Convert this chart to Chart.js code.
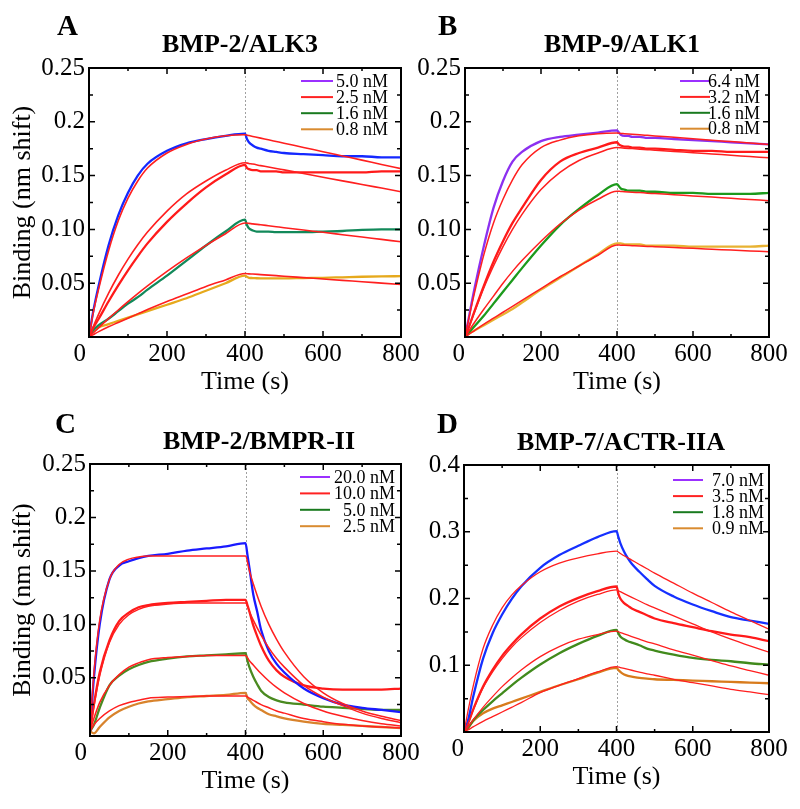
<!DOCTYPE html>
<html>
<head>
<meta charset="utf-8">
<title>Binding kinetics</title>
<script src="https://cdn.jsdelivr.net/npm/chart.js@4.4.1/dist/chart.umd.min.js"></script>
<style>
  html, body { margin: 0; padding: 0; background: #fff; }
  #wrap { position: relative; width: 800px; height: 809px; }
  #wrap canvas { position: absolute; left: 0; top: 0; }
</style>
</head>
<body>
<div id="wrap">
  <canvas id="panelA" width="800" height="809"></canvas>
  <canvas id="panelB" width="800" height="809"></canvas>
  <canvas id="panelC" width="800" height="809"></canvas>
  <canvas id="panelD" width="800" height="809"></canvas>
</div>
<script>
// Sampling times (s) for the measured curves and for the fitted curves
const dataTimes = [0, 10, 25, 50, 75, 100, 125, 150, 200, 250, 300, 350, 400,
    405, 410, 420, 430, 440, 460, 480, 500, 550, 600, 650, 700, 750, 800];
const fitTimes = [0, 10, 25, 50, 75, 100, 125, 150, 200, 250, 300, 350, 400,
    410, 420, 440, 460, 480, 500, 550, 600, 650, 700, 750, 800];
const switchTime = 400;

// Axis ticks
const xTickValues = [0, 200, 400, 600, 800];
const xTickLabelsWide = ['0   ', '200', '400', '600', '800'];
const xTickLabelsNarrow = ['0  ', '200', '400', '600', '800'];
const xMinorTicks = [100, 300, 500, 700];
const yTickValues = [0.05, 0.1, 0.15, 0.2, 0.25];
const yTickLabels = ['0.05', '0.10', '0.15', '0.2', '0.25'];
const yMinorTicks = [0.025, 0.075, 0.125, 0.175, 0.225];
const yTickValuesD = [0.1, 0.2, 0.3, 0.4];
const yTickLabelsD = ['0.1', '0.2', '0.3', '0.4'];
const yMinorTicksD = [0.05, 0.15, 0.25, 0.35];

// Legend labels
const legendA = ['5.0 nM', '2.5 nM', '1.6 nM', '0.8 nM'];
const legendB = ['6.4 nM', '3.2 nM', '1.6 nM', '0.8 nM'];
const legendC = ['20.0 nM', '10.0 nM', '5.0 nM', '2.5 nM'];
const legendD = ['7.0 nM', '3.5 nM', '1.8 nM', '0.9 nM'];
const legendColors = ['#9b30ff', '#ff2222', '#197a1f', '#d98b30'];

// A: BMP-2/ALK3 (nm shift)
const aData50 = [0, 0.022, 0.048, 0.085, 0.113, 0.134, 0.150, 0.161, 0.173, 0.180, 0.184, 0.187, 0.189,
    0.184, 0.181, 0.178, 0.176, 0.175, 0.173, 0.172, 0.171, 0.170, 0.169, 0.168, 0.168, 0.167, 0.167];
const aFit50 = [0, 0.021, 0.045, 0.080, 0.108, 0.129, 0.145, 0.157, 0.171, 0.179, 0.184, 0.187, 0.188,
    0.1872, 0.1864, 0.1848, 0.1833, 0.1817, 0.1801, 0.1762, 0.1722, 0.1683, 0.1644, 0.1604, 0.1565];
const aData25 = [0, 0.008, 0.017, 0.033, 0.048, 0.062, 0.075, 0.087, 0.107, 0.124, 0.139, 0.151, 0.160,
    0.157, 0.156, 0.155, 0.155, 0.154, 0.154, 0.154, 0.153, 0.153, 0.153, 0.153, 0.153, 0.154, 0.154];
const aFit25 = [0, 0.0088, 0.0215, 0.0405, 0.0574, 0.0724, 0.0857, 0.0975, 0.117, 0.133, 0.145, 0.155, 0.162,
    0.1613, 0.1607, 0.1593, 0.1580, 0.1566, 0.1553, 0.1519, 0.1485, 0.1451, 0.1418, 0.1384, 0.135];
const aData16 = [0, 0.006, 0.011, 0.017, 0.024, 0.031, 0.037, 0.044, 0.057, 0.071, 0.085, 0.098, 0.109,
    0.104, 0.101, 0.099, 0.098, 0.098, 0.098, 0.0975, 0.0975, 0.0975, 0.098, 0.0985, 0.0995, 0.100, 0.100];
const aFit16 = [0, 0.0035, 0.0087, 0.0171, 0.0251, 0.0328, 0.0403, 0.0475, 0.061, 0.0735, 0.0852, 0.096, 0.106,
    0.1056, 0.1051, 0.1043, 0.1034, 0.1025, 0.1016, 0.0994, 0.0973, 0.0951, 0.0929, 0.0907, 0.0885];
const aData08 = [0, 0.005, 0.009, 0.012, 0.015, 0.018, 0.021, 0.024, 0.030, 0.036, 0.043, 0.050, 0.057,
    0.056, 0.055, 0.0548, 0.0546, 0.0545, 0.0545, 0.0545, 0.0545, 0.0548, 0.055, 0.0555, 0.056, 0.0563, 0.0565];
const aFit08 = [0, 0.002, 0.005, 0.0095, 0.0135, 0.0175, 0.0215, 0.0255, 0.033, 0.040, 0.047, 0.053, 0.059,
    0.0587, 0.0585, 0.0580, 0.0575, 0.0570, 0.0565, 0.0552, 0.0539, 0.0526, 0.0514, 0.0501, 0.0488];

// B: BMP-9/ALK1
const bData64 = [0, 0.018, 0.045, 0.085, 0.120, 0.145, 0.163, 0.172, 0.182, 0.186, 0.188, 0.190, 0.192,
    0.190, 0.188, 0.187, 0.187, 0.186, 0.186, 0.185, 0.185, 0.184, 0.183, 0.182, 0.181, 0.180, 0.179];
const bFit64 = [0, 0.017, 0.041, 0.077, 0.106, 0.128, 0.146, 0.160, 0.176, 0.183, 0.187, 0.189, 0.1895,
    0.1892, 0.1890, 0.1885, 0.1879, 0.1874, 0.1869, 0.1856, 0.1843, 0.1829, 0.1816, 0.1803, 0.179];
const bData32 = [0, 0.009, 0.024, 0.048, 0.070, 0.089, 0.106, 0.120, 0.146, 0.163, 0.171, 0.176, 0.181,
    0.179, 0.178, 0.177, 0.177, 0.176, 0.176, 0.175, 0.175, 0.174, 0.173, 0.173, 0.172, 0.172, 0.172];
const bFit32 = [0, 0.009, 0.023, 0.046, 0.066, 0.084, 0.100, 0.114, 0.137, 0.153, 0.164, 0.171, 0.176,
    0.1758, 0.1755, 0.1751, 0.1746, 0.1741, 0.1736, 0.1724, 0.1713, 0.1701, 0.1689, 0.1677, 0.1665];
const bData16 = [0, 0.004, 0.010, 0.020, 0.031, 0.042, 0.053, 0.064, 0.085, 0.104, 0.119, 0.132, 0.142,
    0.140, 0.138, 0.137, 0.136, 0.136, 0.136, 0.135, 0.135, 0.134, 0.134, 0.133, 0.133, 0.133, 0.134];
const bFit16 = [0, 0.0055, 0.0135, 0.026, 0.038, 0.050, 0.061, 0.071, 0.089, 0.105, 0.118, 0.128, 0.1355,
    0.1353, 0.1351, 0.1346, 0.1342, 0.1337, 0.1333, 0.1322, 0.1311, 0.1300, 0.1289, 0.1278, 0.1267];
const bData08 = [0, 0.003, 0.006, 0.011, 0.016, 0.021, 0.026, 0.032, 0.044, 0.055, 0.066, 0.077, 0.087,
    0.087, 0.087, 0.086, 0.086, 0.086, 0.086, 0.085, 0.085, 0.085, 0.084, 0.084, 0.084, 0.084, 0.085];
const bFit08 = [0, 0.0025, 0.006, 0.012, 0.0175, 0.023, 0.0285, 0.034, 0.045, 0.056, 0.066, 0.076, 0.0855,
    0.0853, 0.0852, 0.0849, 0.0846, 0.0842, 0.0839, 0.0831, 0.0824, 0.0816, 0.0808, 0.0800, 0.0792];

// C: BMP-2/BMPR-II
const cData200 = [0, 0.050, 0.100, 0.142, 0.155, 0.159, 0.162, 0.164, 0.166, 0.169, 0.171, 0.173, 0.176,
    0.165, 0.153, 0.128, 0.112, 0.095, 0.075, 0.063, 0.055, 0.040, 0.031, 0.025, 0.022, 0.020, 0.018];
const cFit200 = [0, 0.054, 0.104, 0.142, 0.156, 0.161, 0.163, 0.164, 0.164, 0.164, 0.164, 0.164, 0.164,
    0.150, 0.138, 0.117, 0.100, 0.086, 0.074, 0.051, 0.036, 0.026, 0.019, 0.014, 0.010];
const cData100 = [0, 0.025, 0.055, 0.085, 0.103, 0.111, 0.116, 0.118, 0.120, 0.121, 0.122, 0.123, 0.123,
    0.118, 0.112, 0.099, 0.089, 0.080, 0.066, 0.057, 0.051, 0.043, 0.040, 0.039, 0.039, 0.039, 0.040];
const cFit100 = [0, 0.023, 0.052, 0.083, 0.100, 0.109, 0.114, 0.117, 0.119, 0.120, 0.120, 0.120, 0.120,
    0.112, 0.104, 0.090, 0.078, 0.068, 0.060, 0.043, 0.032, 0.024, 0.017, 0.012, 0.008];
const cData50 = [0, 0.006, 0.022, 0.043, 0.052, 0.058, 0.062, 0.065, 0.068, 0.070, 0.071, 0.072, 0.073,
    0.066, 0.060, 0.051, 0.044, 0.038, 0.032, 0.029, 0.027, 0.025, 0.023, 0.022, 0.021, 0.020, 0.020];
const cFit50 = [0, 0.012, 0.027, 0.043, 0.053, 0.060, 0.064, 0.067, 0.069, 0.070, 0.071, 0.071, 0.071,
    0.066, 0.062, 0.054, 0.047, 0.041, 0.036, 0.026, 0.019, 0.014, 0.010, 0.007, 0.005];
const cData25 = [0, -0.002, 0.004, 0.013, 0.019, 0.023, 0.026, 0.028, 0.030, 0.032, 0.033, 0.034, 0.036,
    0.031, 0.029, 0.025, 0.022, 0.020, 0.016, 0.014, 0.012, 0.009, 0.007, 0.006, 0.005, 0.004, 0.003];
const cFit25 = [0, 0.006, 0.012, 0.019, 0.024, 0.027, 0.029, 0.031, 0.032, 0.0325, 0.033, 0.033, 0.033,
    0.031, 0.029, 0.025, 0.022, 0.019, 0.017, 0.012, 0.009, 0.0065, 0.005, 0.004, 0.003];

// D: BMP-7/ACTR-IIA
const dData70 = [0, 0.016, 0.055, 0.110, 0.148, 0.176, 0.199, 0.218, 0.246, 0.265, 0.279, 0.292, 0.301,
    0.292, 0.283, 0.270, 0.260, 0.252, 0.240, 0.229, 0.219, 0.203, 0.191, 0.181, 0.172, 0.167, 0.162];
const dFit70 = [0, 0.030, 0.071, 0.125, 0.160, 0.186, 0.205, 0.219, 0.240, 0.253, 0.261, 0.267, 0.271,
    0.2675, 0.264, 0.2575, 0.251, 0.2445, 0.238, 0.223, 0.208, 0.194, 0.180, 0.167, 0.154];
const dData35 = [0, 0.012, 0.035, 0.068, 0.093, 0.114, 0.131, 0.146, 0.170, 0.188, 0.201, 0.211, 0.218,
    0.207, 0.200, 0.193, 0.189, 0.185, 0.180, 0.175, 0.170, 0.163, 0.157, 0.151, 0.146, 0.142, 0.136];
const dFit35 = [0, 0.012, 0.034, 0.066, 0.090, 0.110, 0.127, 0.141, 0.164, 0.182, 0.196, 0.206, 0.213,
    0.2102, 0.2074, 0.2018, 0.1963, 0.1908, 0.186, 0.174, 0.162, 0.150, 0.139, 0.129, 0.1195];
const dData18 = [0, 0.006, 0.018, 0.033, 0.046, 0.058, 0.070, 0.081, 0.101, 0.118, 0.132, 0.144, 0.153,
    0.148, 0.143, 0.139, 0.136, 0.134, 0.130, 0.125, 0.122, 0.116, 0.111, 0.108, 0.106, 0.103, 0.101];
const dFit18 = [0, 0.007, 0.019, 0.037, 0.053, 0.068, 0.081, 0.093, 0.113, 0.128, 0.139, 0.146, 0.151,
    0.149, 0.147, 0.143, 0.139, 0.135, 0.132, 0.123, 0.115, 0.107, 0.099, 0.092, 0.085];
const dData09 = [0, 0.006, 0.017, 0.028, 0.035, 0.040, 0.045, 0.050, 0.060, 0.070, 0.079, 0.089, 0.096,
    0.093, 0.090, 0.086, 0.084, 0.083, 0.081, 0.080, 0.079, 0.078, 0.077, 0.076, 0.075, 0.074, 0.073];
const dFit09 = [0, 0.003, 0.008, 0.016, 0.023, 0.030, 0.037, 0.044, 0.059, 0.070, 0.080, 0.090, 0.098,
    0.0966, 0.0952, 0.0925, 0.0898, 0.0871, 0.0850, 0.079, 0.074, 0.069, 0.064, 0.060, 0.056];

const FONT = "'Liberation Serif', 'Times New Roman', serif";
const FIT_RED = '#ff1f1f';
Chart.defaults.font.family = FONT;
Chart.defaults.color = '#000';

function series(times, values) {
    return values.map((v, i) => ({ x: times[i], y: v }));
}

// frame, inward ticks, dotted switch line, legend, panel letter and title
const panelDecor = {
    id: 'panelDecor',
    beforeDatasetsDraw(chart, args, o) {
        const { ctx, chartArea: a, scales: { x } } = chart;
        const px = Math.round(x.getPixelForValue(switchTime)) + 0.5;
        ctx.save();
        ctx.strokeStyle = '#a0a0a0';
        ctx.lineWidth = 1;
        ctx.setLineDash([2, 2]);
        ctx.beginPath();
        ctx.moveTo(px, a.top);
        ctx.lineTo(px, a.bottom);
        ctx.stroke();
        ctx.restore();
    },
    afterDatasetsDraw(chart, args, o) {
        const { ctx, chartArea: a, scales: { x, y } } = chart;
        ctx.save();
        ctx.strokeStyle = '#000';
        ctx.lineWidth = 2;
        ctx.strokeRect(a.left, a.top, a.right - a.left, a.bottom - a.top);

        ctx.lineWidth = 1.5;
        const xTicks = (vals, len) => vals.forEach(v => {
            const px = x.getPixelForValue(v);
            if (px <= a.left + 1 || px >= a.right - 1) return;
            ctx.beginPath();
            ctx.moveTo(px, a.bottom); ctx.lineTo(px, a.bottom - len);
            ctx.moveTo(px, a.top); ctx.lineTo(px, a.top + len);
            ctx.stroke();
        });
        const yTicks = (vals, len) => vals.forEach(v => {
            const py = y.getPixelForValue(v);
            if (py <= a.top + 1 || py >= a.bottom - 1) return;
            ctx.beginPath();
            ctx.moveTo(a.left, py); ctx.lineTo(a.left + len, py);
            ctx.moveTo(a.right, py); ctx.lineTo(a.right - len, py);
            ctx.stroke();
        });
        xTicks(xTickValues, 6);
        xTicks(xMinorTicks, 3);
        yTicks(o.yMajor, 6);
        yTicks(o.yMinor, 4);

        // legend
        const lg = o.legend;
        ctx.font = '18px ' + FONT;
        ctx.textAlign = 'right';
        ctx.textBaseline = 'middle';
        lg.labels.forEach((lab, i) => {
            const yy = lg.top + i * lg.step;
            ctx.strokeStyle = legendColors[i];
            ctx.lineWidth = 2;
            ctx.beginPath();
            ctx.moveTo(lg.x1, yy); ctx.lineTo(lg.x2, yy);
            ctx.stroke();
            ctx.fillStyle = '#000';
            ctx.fillText(lab, lg.right, yy + 1);
        });

        // panel letter and title
        ctx.textBaseline = 'alphabetic';
        ctx.textAlign = 'left';
        ctx.font = 'bold 29px ' + FONT;
        ctx.fillText(o.letter, o.letterX, o.letterY);
        ctx.textAlign = 'center';
        ctx.font = 'bold 26px ' + FONT;
        ctx.fillText(o.title, o.titleX, o.titleY);
        ctx.restore();
    }
};

function buildPanel(id, p) {
    const fits = p.fits.map(vals => ({
        data: series(fitTimes, vals),
        borderColor: FIT_RED,
        borderWidth: p.fitWidth,
        order: 0
    }));
    const meas = p.data.map((vals, i) => ({
        data: series(dataTimes, vals),
        borderColor: p.colors[i],
        borderWidth: 2.3,
        order: 1
    }));
    new Chart(document.getElementById(id), {
        type: 'line',
        data: { datasets: fits.concat(meas) },
        options: {
            responsive: false,
            animation: false,
            events: [],
            layout: { padding: p.padding },
            elements: {
                point: { radius: 0 },
                line: { cubicInterpolationMode: 'monotone', fill: false }
            },
            scales: {
                x: {
                    type: 'linear', min: 0, max: 800,
                    afterBuildTicks: s => { s.ticks = xTickValues.map(v => ({ value: v })); },
                    afterFit: s => { s.height = 61; },
                    grid: { display: false, drawTicks: false },
                    border: { display: false },
                    ticks: {
                        autoSkip: false, maxRotation: 0, padding: 2,
                        font: { size: 25 }, color: '#000',
                        callback: (v, i) => p.xLabels[i]
                    },
                    title: {
                        display: true, text: 'Time (s)',
                        font: { size: 26 }, color: '#000',
                        padding: { top: 0, bottom: 0 }
                    }
                },
                y: {
                    type: 'linear', min: p.yMin, max: p.yMax,
                    afterBuildTicks: s => { s.ticks = p.yValues.map(v => ({ value: v })); },
                    afterFit: s => { s.width = p.yWidth; },
                    grid: { display: false, drawTicks: false },
                    border: { display: false },
                    ticks: {
                        autoSkip: false, padding: 4,
                        font: { size: 25 }, color: '#000',
                        callback: (v, i) => p.yLabels[i]
                    },
                    title: {
                        display: p.yTitle, text: 'Binding (nm shift)',
                        font: { size: 26 }, color: '#000',
                        padding: { top: 8, bottom: 0 }
                    }
                }
            },
            plugins: {
                legend: { display: false },
                tooltip: { enabled: false },
                panelDecor: {
                    yMajor: p.yValues, yMinor: p.yMinor,
                    legend: p.legend,
                    letter: p.letter, letterX: p.letterX, letterY: p.letterY,
                    title: p.title, titleX: p.titleX, titleY: p.titleY
                }
            }
        },
        plugins: [panelDecor]
    });
}

buildPanel('panelA', {
    padding: { left: 0, right: 399, top: 68, bottom: 411 },
    yWidth: 89, yMin: 0, yMax: 0.25, yTitle: true,
    yValues: yTickValues, yLabels: yTickLabels, yMinor: yMinorTicks,
    xLabels: xTickLabelsWide,
    data: [aData50, aData25, aData16, aData08],
    fits: [aFit50, aFit25, aFit16, aFit08], fitWidth: 1.6,
    colors: ['#1428ff', '#ff1a1a', '#12895a', '#e6a91c'],
    legend: { labels: legendA, x1: 301, x2: 333, right: 388, top: 81, step: 16.1 },
    letter: 'A', letterX: 57, letterY: 35,
    title: 'BMP-2/ALK3', titleX: 240, titleY: 52
});

buildPanel('panelB', {
    padding: { left: 400, right: 31, top: 68, bottom: 411 },
    yWidth: 65, yMin: 0, yMax: 0.25, yTitle: false,
    yValues: yTickValues, yLabels: yTickLabels, yMinor: yMinorTicks,
    xLabels: xTickLabelsNarrow,
    data: [bData64, bData32, bData16, bData08],
    fits: [bFit64, bFit32, bFit16, bFit08], fitWidth: 1.5,
    colors: ['#8c30f0', '#ff1a1a', '#1c9a1c', '#e8b232'],
    legend: { labels: legendB, x1: 680, x2: 710, right: 760, top: 81, step: 15.9 },
    letter: 'B', letterX: 438, letterY: 35,
    title: 'BMP-9/ALK1', titleX: 622, titleY: 52
});

buildPanel('panelC', {
    padding: { left: 0, right: 399, top: 464, bottom: 12 },
    yWidth: 90, yMin: -0.0044, yMax: 0.25, yTitle: true,
    yValues: yTickValues, yLabels: yTickLabels, yMinor: yMinorTicks,
    xLabels: xTickLabelsWide,
    data: [cData200, cData100, cData50, cData25],
    fits: [cFit200, cFit100, cFit50, cFit25], fitWidth: 1.5,
    colors: ['#1a1aff', '#ff1a1a', '#4a8a20', '#d8832c'],
    legend: { labels: legendC, x1: 300, x2: 330, right: 395, top: 477, step: 16.4 },
    letter: 'C', letterX: 55, letterY: 433,
    title: 'BMP-2/BMPR-II', titleX: 259, titleY: 449
});

buildPanel('panelD', {
    padding: { left: 400, right: 31, top: 465, bottom: 16 },
    yWidth: 64, yMin: 0, yMax: 0.4, yTitle: false,
    yValues: yTickValuesD, yLabels: yTickLabelsD, yMinor: yMinorTicksD,
    xLabels: xTickLabelsNarrow,
    data: [dData70, dData35, dData18, dData09],
    fits: [dFit70, dFit35, dFit18, dFit09], fitWidth: 1.3,
    colors: ['#1530ff', '#ff1a1a', '#418a1c', '#d87b1c'],
    legend: { labels: legendD, x1: 673, x2: 703, right: 764, top: 480, step: 16.1 },
    letter: 'D', letterX: 437, letterY: 433,
    title: 'BMP-7/ACTR-IIA', titleX: 621, titleY: 450
});
</script>
</body>
</html>
